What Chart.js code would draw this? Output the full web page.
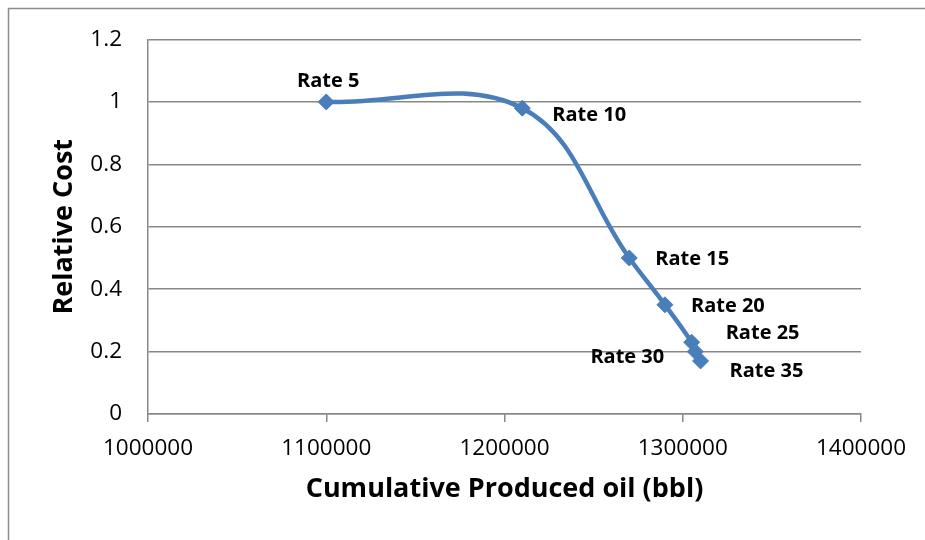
<!DOCTYPE html>
<html>
<head>
<meta charset="utf-8">
<title>Relative Cost vs Cumulative Produced Oil</title>
<script src="https://cdn.jsdelivr.net/npm/chart.js@4/dist/chart.umd.min.js"></script>
<style>
  html, body { margin: 0; padding: 0; background: #ffffff; }
  #wrap { width: 925px; height: 540px; }
</style>
</head>
<body>
<div id="wrap"><canvas id="chart" width="925" height="540"></canvas></div>
<script>
// Production scenarios and their results
const rateLabels = ['Rate 5', 'Rate 10', 'Rate 15', 'Rate 20', 'Rate 25', 'Rate 30', 'Rate 35'];
const cumulativeOil = [1100000, 1210000, 1270000, 1290000, 1305000, 1307000, 1310000];
const relativeCost = [1.0, 0.98, 0.5, 0.35, 0.23, 0.2, 0.17];

// Axis ticks
const xTicks = [1000000, 1100000, 1200000, 1300000, 1400000];
const yTicks = [0, 0.2, 0.4, 0.6, 0.8, 1, 1.2];

// Where each point label sits relative to its marker (dx, dy in px, text alignment)
const labelPlacement = [
  { dx: 2, dy: -21, align: 'center' },
  { dx: 30, dy: 7, align: 'left' },
  { dx: 26, dy: 1.5, align: 'left' },
  { dx: 26, dy: 1.5, align: 'left' },
  { dx: 34, dy: -9, align: 'left' },
  { dx: -31, dy: 6, align: 'right' },
  { dx: 29, dy: 10, align: 'left' }
];

const SERIES_BLUE = '#4a7ebb';
const GRID_GRAY = '#888888';
const FONT = "'Open Sans', 'Liberation Sans', sans-serif";

const points = cumulativeOil.map((x, i) => ({ x: x, y: relativeCost[i] }));

// Thin frame around the whole chart object
const frame = {
  id: 'frame',
  beforeDraw(chart) {
    const ctx = chart.ctx;
    ctx.save();
    ctx.fillStyle = '#ffffff';
    ctx.fillRect(0, 0, chart.width, chart.height);
    ctx.strokeStyle = '#8c8c8c';
    ctx.lineWidth = 1.5;
    ctx.beginPath();
    ctx.moveTo(8.5, chart.height);
    ctx.lineTo(8.5, 8.5);
    ctx.lineTo(chart.width, 8.5);
    ctx.stroke();
    ctx.restore();
  }
};

// Name of each scenario next to its marker
const pointNames = {
  id: 'pointNames',
  afterDatasetsDraw(chart) {
    const ctx = chart.ctx;
    const meta = chart.getDatasetMeta(0);
    ctx.save();
    ctx.font = "bold 20px " + FONT;
    ctx.fillStyle = '#000000';
    ctx.textBaseline = 'middle';
    meta.data.forEach((el, i) => {
      const p = labelPlacement[i];
      ctx.textAlign = p.align;
      ctx.fillText(rateLabels[i], el.x + p.dx, el.y + p.dy);
    });
    ctx.restore();
  }
};

new Chart(document.getElementById('chart'), {
  type: 'scatter',
  data: {
    datasets: [{
      label: 'Relative Cost',
      data: points,
      showLine: true,
      borderColor: SERIES_BLUE,
      borderWidth: 4.5,
      backgroundColor: SERIES_BLUE,
      tension: 0.38,
      pointStyle: 'rectRot',
      pointRadius: 8,
      pointHoverRadius: 8,
      pointBorderWidth: 1,
      pointBorderColor: SERIES_BLUE,
      pointBackgroundColor: SERIES_BLUE
    }]
  },
  options: {
    responsive: false,
    devicePixelRatio: 1,
    animation: false,
    events: [],
    layout: { padding: { top: 38, right: 64, left: 0, bottom: 0 } },
    plugins: {
      legend: { display: false },
      tooltip: { enabled: false },
      title: { display: false }
    },
    scales: {
      x: {
        type: 'linear',
        min: xTicks[0],
        max: xTicks[xTicks.length - 1],
        afterBuildTicks(scale) { scale.ticks = xTicks.map(v => ({ value: v })); },
        afterFit(scale) { scale.height = 126; },
        grid: {
          drawOnChartArea: false,
          drawTicks: true,
          tickLength: 8,
          color: GRID_GRAY,
          lineWidth: 1.5
        },
        border: { display: true, color: GRID_GRAY, width: 1.5 },
        ticks: {
          padding: 13,
          color: '#000000',
          font: { family: FONT, size: 22.5 },
          maxRotation: 0,
          autoSkip: false,
          callback: v => String(v)
        },
        title: {
          display: true,
          text: 'Cumulative Produced oil (bbl)',
          color: '#000000',
          font: { family: FONT, size: 27, weight: 'bold' },
          padding: { top: 0, bottom: 34 }
        }
      },
      y: {
        type: 'linear',
        min: yTicks[0],
        max: yTicks[yTicks.length - 1],
        afterBuildTicks(scale) { scale.ticks = yTicks.map(v => ({ value: v })); },
        afterFit(scale) { scale.width = 148; },
        grid: {
          drawTicks: false,
          color: GRID_GRAY,
          lineWidth: 1.5
        },
        border: { display: true, color: GRID_GRAY, width: 1.5 },
        ticks: {
          padding: 26,
          color: '#000000',
          font: { family: FONT, size: 22.5 },
          autoSkip: false,
          callback: v => String(v)
        },
        title: {
          display: true,
          text: 'Relative Cost',
          color: '#000000',
          font: { family: FONT, size: 27, weight: 'bold' },
          padding: { top: 48, bottom: 0 }
        }
      }
    }
  },
  plugins: [frame, pointNames]
});
</script>
</body>
</html>
